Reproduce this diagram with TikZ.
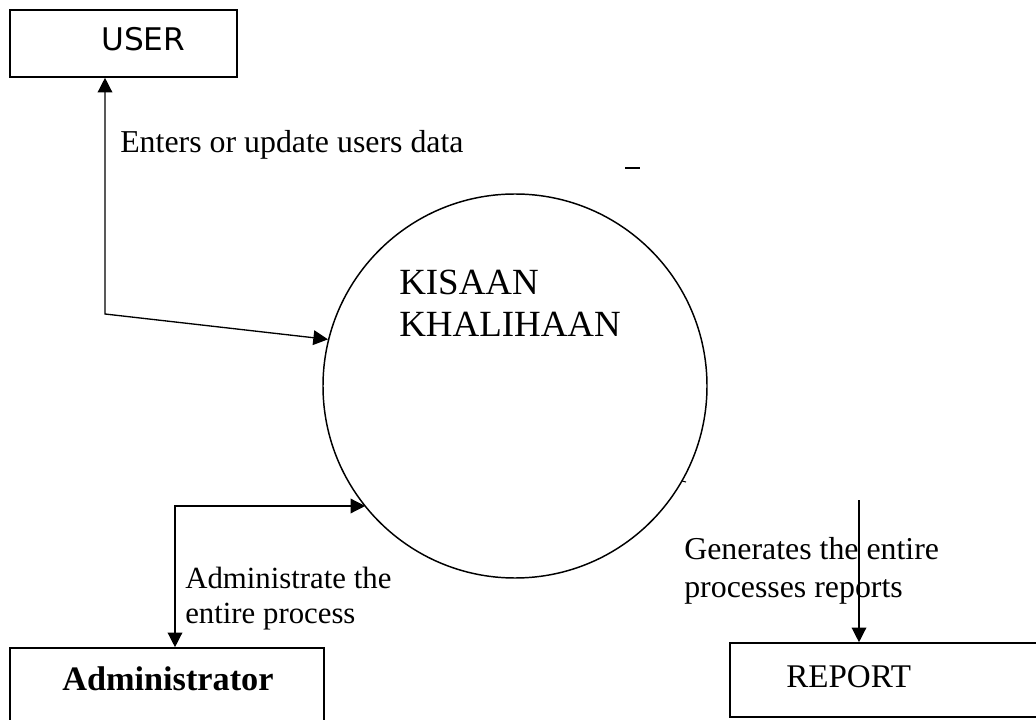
\documentclass[tikz,border=0pt]{standalone}
\usepackage{fontspec}
\setmainfont{Liberation Serif}
\newfontfamily\dejavu{DejaVu Sans}
\usetikzlibrary{arrows.meta,fit}
\tikzset{
  boxshape/.style={draw, line width=1.2pt, inner sep=0pt, rectangle},
  txt/.style={inner sep=0pt, anchor=base west},
  flow/.style={line width=1pt},
  tip/.tip={Triangle[length=11pt,width=11pt]}
}
\begin{document}
\begin{tikzpicture}[x=0.75pt,y=-0.75pt]
\useasboundingbox (0,0) rectangle (1036,720);
\clip (0,0) rectangle (1036,720);
\fill[white] (0,0) rectangle (1036,720);
% boxes
\node[boxshape, fit={(10,10) (237,77)}] (user) {};
\node[boxshape, fit={(10,648) (324,740)}] (admin) {};
\node[boxshape, fit={(730,643) (1050,717)}] (report) {};
% process circle
\node[circle, draw, line width=1.1pt, minimum size=288pt, inner sep=0pt] (kk) at (515,386) {};
% texts
\node[txt, font=\dejavu\fontsize{23.4pt}{28pt}\selectfont] (tuser) at (101,51) {USER};
\node[txt, font=\bfseries\fontsize{25.7pt}{30pt}\selectfont] (tadmin) at (62,690) {Administrator};
\node[txt, font=\fontsize{24.8pt}{30pt}\selectfont] (treport) at (786,687) {REPORT};
\node[txt, font=\fontsize{27.7pt}{32pt}\selectfont] (k1) at (399,295) {KISAAN};
\node[txt, font=\fontsize{27.7pt}{32pt}\selectfont] (k2) at (399,337) {KHALIHAAN};
\node[txt, font=\fontsize{23.9pt}{28pt}\selectfont] (l1) at (120,153) {Enters or update users data};
\node[txt, font=\fontsize{23.1pt}{28pt}\selectfont] (l2a) at (185,588) {Administrate the};
\node[txt, font=\fontsize{23.1pt}{28pt}\selectfont] (l2b) at (185,623) {entire process};
\node[txt, font=\fontsize{23.9pt}{28pt}\selectfont] (l3a) at (684,559) {Generates the entire};
\node[txt, font=\fontsize{23.9pt}{28pt}\selectfont] (l3b) at (684,597) {processes reports};
% connectors
\coordinate (c1) at (105,314);
\coordinate (c2) at (175,506);
\coordinate (c3) at (859,500);
\draw[flow, {tip}-{tip}] (user.south -| c1) -- (c1) -- (kk.166);
\draw[flow, {tip}-{tip}] (c2 -| kk.219) -- (c2) -- (c2 |- admin.north);
\draw[flow, -{tip}] (c3) -- (c3 |- report.north);
% stray marks
\coordinate (d1) at (625,168);
\coordinate (d2) at (640,168);
\draw[line width=2.2pt] (d1) -- (d2);
\coordinate (t1) at (682,481);
\coordinate (t2) at (686,482);
\draw[line width=0.8pt] (t1) -- (t2);
\end{tikzpicture}
\end{document}
